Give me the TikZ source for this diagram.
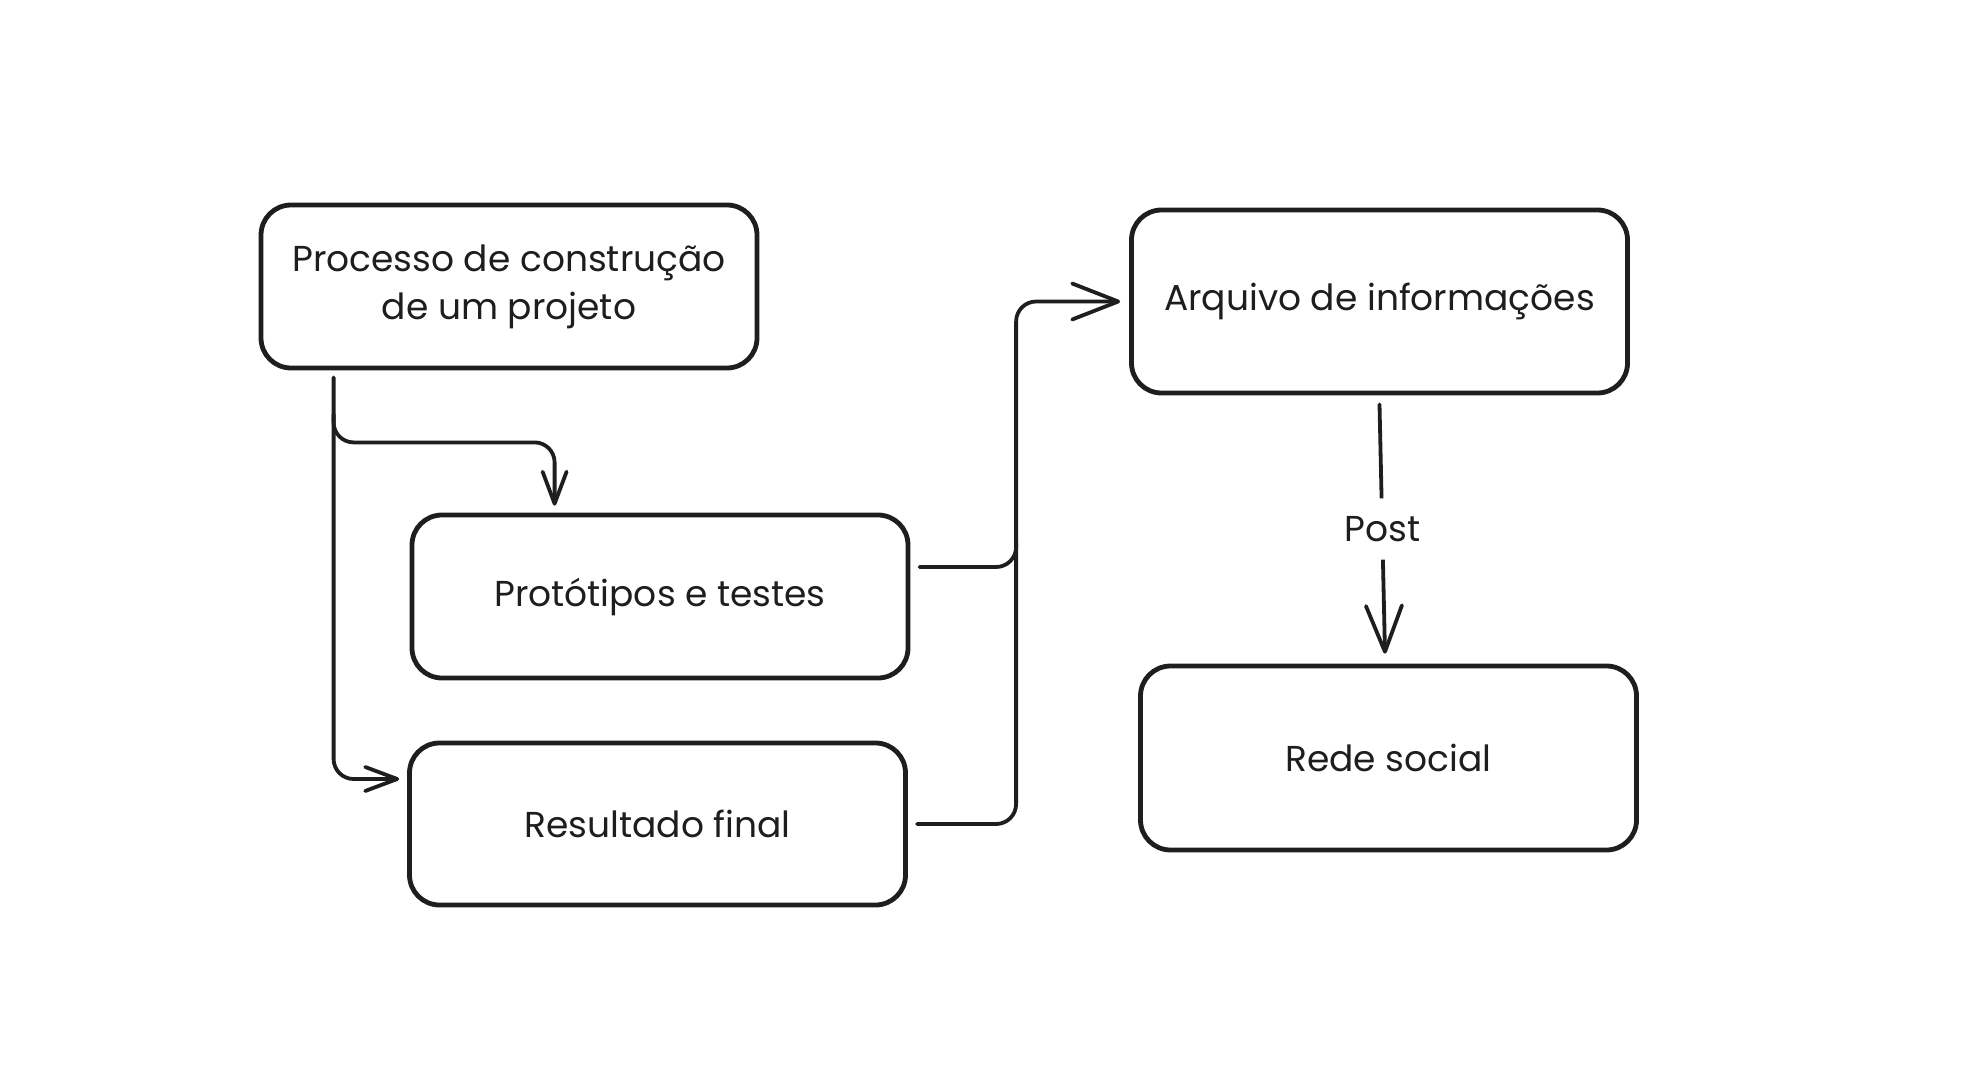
\documentclass[tikz,border=0pt]{standalone}
\usepackage{fontspec}
\setmainfont{Poppins}
\usetikzlibrary{arrows.meta,calc}

\definecolor{ink}{HTML}{1E1E1E}
\tikzset{
	box/.style={draw=ink, line width=2.4pt, rounded corners=15pt, minimum width=248pt, align=center, text=ink, font=\fontsize{18}{24}\selectfont},
	link/.style={draw=ink, line width=1.9pt, rounded corners=10pt, line cap=round},
	bighead/.style={-{Straight Barb[length=23pt,width=18pt,round]}},
	smallhead/.style={-{Straight Barb[length=16pt,width=12pt,round]}},
}

\begin{document}
\begin{tikzpicture}[x=0.5pt,y=-0.5pt]
			\fill[white] (0,0) rectangle (1971,1081);
			\useasboundingbox (0,0) rectangle (1971,1081);

			\node[box, minimum height=81.5pt] (proc) at (509,286.5) {Processo de construção\\de um projeto};
			\node[box, minimum height=81.5pt] (prot) at (660,596.5) {Protótipos e testes};
			\node[box, minimum height=81pt] (res) at (657.5,824) {Resultado final};
			\node[box, minimum height=91.5pt] (arq) at (1379.5,301.5) {Arquivo de informações};
			\node[box, minimum height=92pt] (rede) at (1388.5,758) {Rede social};

			\coordinate (split) at ([xshift=37.5pt,yshift=-36pt]proc.south west);
			\coordinate (bus) at ($(arq.west)+(-56.5pt,0)$);
			\coordinate (protout) at ([xshift=4.5pt,yshift=14.75pt]prot.east);

			\draw[link, smallhead] ([xshift=37.5pt,yshift=-3.5pt]proc.south west) |- ([xshift=-4pt,yshift=22.5pt]res.west);
			\draw[link, smallhead] ([yshift=14pt]split) -- (split) -| ([xshift=72.5pt,yshift=3.5pt]prot.north west);
			\draw[link, bighead] (protout) -| (bus) -- ([xshift=-4.5pt]arq.west);
			\draw[link] ([xshift=4.5pt]res.east) -| ([yshift=12pt]bus |- protout);
			\draw[link, bighead] ([yshift=-4.5pt]arq.south) -- node[fill=white, text=ink, inner ysep=9pt, font=\fontsize{18}{24}\selectfont] (post) {Post} ([xshift=-1.75pt,yshift=5pt]rede.north);
		\end{tikzpicture}
\end{document}
